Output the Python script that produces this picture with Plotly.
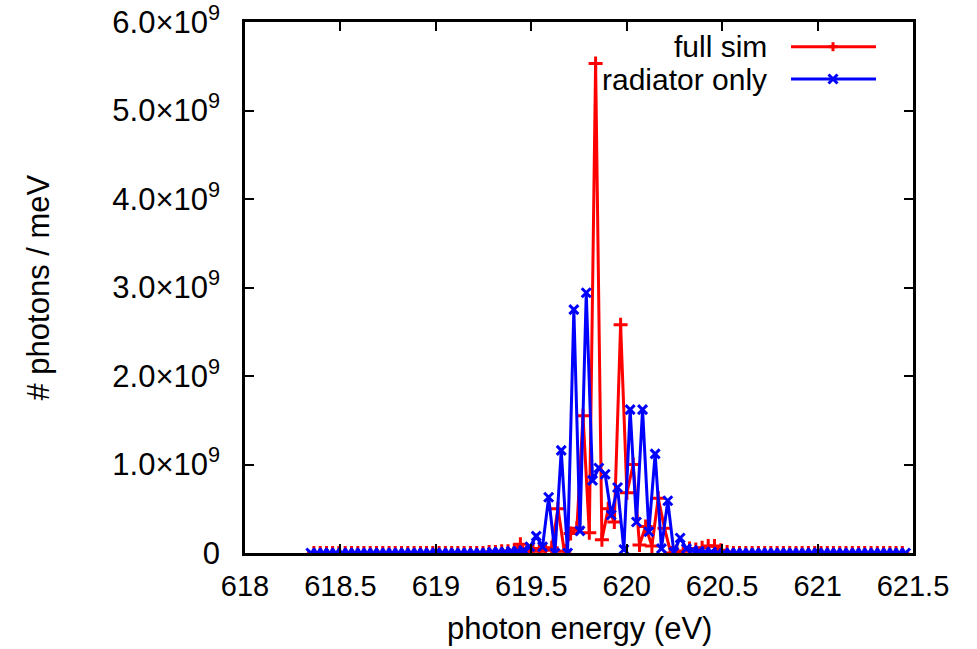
import plotly.graph_objects as go

# ---------------- data (values in units of 1e9 photons / meV) ----------------
energy_full = [
    618.361, 618.394, 618.427, 618.459, 618.492, 618.525, 618.558, 618.591, 618.623, 618.656,
    618.689, 618.722, 618.755, 618.787, 618.820, 618.853, 618.886, 618.919, 618.951, 618.984,
    619.017, 619.050, 619.083, 619.115, 619.148, 619.181, 619.214, 619.247, 619.279, 619.312,
    619.345, 619.378, 619.411, 619.443, 619.476, 619.509, 619.542, 619.575, 619.607, 619.640,
    619.673, 619.706, 619.739, 619.771, 619.804, 619.837, 619.870, 619.903, 619.935, 619.968,
    620.001, 620.034, 620.067, 620.099, 620.132, 620.165, 620.198, 620.231, 620.263, 620.296,
    620.329, 620.362, 620.395, 620.427, 620.460, 620.493, 620.526, 620.559, 620.591, 620.624,
    620.657, 620.690, 620.723, 620.755, 620.788, 620.821, 620.854, 620.887, 620.919, 620.952,
    620.985, 621.018, 621.051, 621.083, 621.116, 621.149, 621.182, 621.215, 621.247, 621.280,
    621.313, 621.346, 621.379, 621.411, 621.444]
full_sim = [
    0, 0, 0, 0, 0, 0, 0, 0, 0, 0,
    0, 0, 0, 0, 0, 0, 0, 0, 0, 0,
    0, 0, 0, 0, 0, 0, 0, 0, 0.01, 0.01,
    0.02, 0.02, 0.03, 0.10, 0.01, 0.05, 0.02, 0.03, 0.06, 0.50,
    0.02, 0.22, 0.28, 1.55, 0.23, 5.53, 0.15, 0.50, 0.35, 2.58,
    0.68, 1.00, 0.09, 0.30, 0.08, 0.62, 0.28, 0.0, 0.02, 0.02,
    0.05, 0.04, 0.06, 0.08, 0.08, 0.03, 0.01, 0, 0, 0,
    0, 0, 0, 0, 0, 0, 0, 0, 0, 0,
    0, 0, 0, 0, 0, 0, 0, 0, 0, 0,
    0, 0, 0, 0, 0]

energy_rad = [
    618.345, 618.378, 618.411, 618.443, 618.476, 618.509, 618.542, 618.575, 618.607, 618.640,
    618.673, 618.706, 618.739, 618.771, 618.804, 618.837, 618.870, 618.903, 618.935, 618.968,
    619.001, 619.034, 619.067, 619.099, 619.132, 619.165, 619.198, 619.231, 619.263, 619.296,
    619.329, 619.362, 619.395, 619.427, 619.460, 619.493, 619.526, 619.559, 619.591, 619.624,
    619.657, 619.690, 619.723, 619.755, 619.788, 619.821, 619.854, 619.887, 619.919, 619.952,
    619.985, 620.018, 620.051, 620.083, 620.116, 620.149, 620.182, 620.215, 620.247, 620.280,
    620.313, 620.346, 620.379, 620.411, 620.444, 620.477, 620.510, 620.543, 620.575, 620.608,
    620.641, 620.674, 620.707, 620.739, 620.772, 620.805, 620.838, 620.871, 620.903, 620.936,
    620.969, 621.002, 621.035, 621.067, 621.100, 621.133, 621.166, 621.199, 621.231, 621.264,
    621.297, 621.330, 621.363, 621.395, 621.428, 621.461]
radiator_only = [
    0, 0, 0, 0, 0, 0, 0, 0, 0, 0,
    0, 0, 0, 0, 0, 0, 0, 0, 0, 0,
    0, 0, 0, 0, 0, 0, 0, 0, 0, 0.01,
    0.01, 0.01, 0.02, 0.02, 0.03, 0.07, 0.19, 0.07, 0.63, 0.0,
    1.16, 0.0, 2.75, 0.25, 2.94, 0.82, 0.96, 0.89, 0.43, 0.74,
    0.04, 1.62, 0.35, 1.62, 0.24, 1.12, 0.05, 0.59, 0.01, 0.17,
    0.05, 0.03, 0.02, 0.01, 0.01, 0, 0, 0, 0, 0,
    0, 0, 0, 0, 0, 0, 0, 0, 0, 0,
    0, 0, 0, 0, 0, 0, 0, 0, 0, 0,
    0, 0, 0, 0, 0, 0]

x_ticks = [618, 618.5, 619, 619.5, 620, 620.5, 621, 621.5]
x_ticktext = ["618", "618.5", "619", "619.5", "620", "620.5", "621", "621.5"]
y_ticks = [0, 1, 2, 3, 4, 5, 6]
y_ticktext = ["0"] + ["%d.0×10<sup>9</sup>" % v for v in y_ticks[1:]]

series_names = ["full sim", "radiator only"]
RED = "#ff0000"
BLUE = "#0000ff"
FONT = "Liberation Sans, Arial, Helvetica, sans-serif"

fig = go.Figure()
fig.add_trace(go.Scatter(
    x=energy_full, y=full_sim, name=series_names[0], mode="lines+markers",
    line=dict(color=RED, width=3),
    marker=dict(symbol="cross-thin", size=10, line=dict(color=RED, width=3)),
    showlegend=False))
fig.add_trace(go.Scatter(
    x=energy_rad, y=radiator_only, name=series_names[1], mode="lines+markers",
    line=dict(color=BLUE, width=3),
    marker=dict(symbol="x-thin", size=9, line=dict(color=BLUE, width=3)),
    showlegend=False))

FIG_W, FIG_H = 977, 649
L, R, T, B = 245, 64, 22, 96
W = FIG_W - L - R
H = FIG_H - T - B

def px(xp):  # window pixel -> paper x
    return (xp - L) / W

def py(yp):  # window pixel -> paper y
    return (FIG_H - B - yp) / H

shapes = []
annotations = []
# manual gnuplot-style key (text, then line sample with marker)
key_rows = [(46.7, RED, "plus"), (79.0, BLUE, "x")]
for (yk, col, kind), label in zip(key_rows, series_names):
    annotations.append(dict(text=label, x=px(769), y=py(yk), xref="paper", yref="paper",
                            xanchor="right", yanchor="middle", showarrow=False,
                            font=dict(family=FONT, size=30, color="black")))
    shapes.append(dict(type="line", xref="paper", yref="paper",
                       x0=px(791), x1=px(876), y0=py(yk), y1=py(yk),
                       line=dict(color=col, width=3)))
    cx, s = 833, 4.5
    if kind == "plus":
        segs = [((cx - s, yk), (cx + s, yk)), ((cx, yk - s), (cx, yk + s))]
    else:
        segs = [((cx - s, yk - s), (cx + s, yk + s)), ((cx - s, yk + s), (cx + s, yk - s))]
    for (a, b) in segs:
        shapes.append(dict(type="line", xref="paper", yref="paper",
                           x0=px(a[0]), y0=py(a[1]), x1=px(b[0]), y1=py(b[1]),
                           line=dict(color=col, width=3)))

annotations.append(dict(text="photon energy (eV)", x=0.5, y=py(628), xref="paper", yref="paper",
                        xanchor="center", yanchor="middle", showarrow=False,
                        font=dict(family=FONT, size=31, color="black")))
annotations.append(dict(text="# photons / meV", x=px(38), y=0.5, xref="paper", yref="paper",
                        xanchor="center", yanchor="middle", showarrow=False, textangle=-90,
                        font=dict(family=FONT, size=31, color="black")))

fig.update_layout(
    width=FIG_W, height=FIG_H,
    margin=dict(l=L, r=R, t=T, b=B, pad=0, autoexpand=False),
    paper_bgcolor="white", plot_bgcolor="white",
    font=dict(family=FONT, size=30, color="black"),
    shapes=shapes, annotations=annotations,
    showlegend=False,
)
fig.update_xaxes(
    range=[618, 621.5], tickvals=x_ticks, ticktext=x_ticktext,
    ticks="inside", ticklen=9, tickwidth=2, tickcolor="black",
    showline=True, linecolor="black", linewidth=2.5, mirror="ticks",
    showgrid=False, zeroline=False, ticklabelstandoff=5, automargin=False,
    ticklabeloverflow="allow",
    tickfont=dict(family=FONT, size=29, color="black"))
fig.update_yaxes(
    range=[0, 6], tickvals=y_ticks, ticktext=y_ticktext,
    ticks="inside", ticklen=9, tickwidth=2, tickcolor="black",
    showline=True, linecolor="black", linewidth=2.5, mirror="ticks",
    showgrid=False, zeroline=False, ticklabelstandoff=16, automargin=False,
    ticklabeloverflow="allow",
    tickfont=dict(family=FONT, size=31, color="black"))

# remove the browser's default 8px body margin so the figure fills the window exactly
fig.write_html("out.html", config={"displayModeBar": False},
               post_script="document.body.style.margin='0px';")
